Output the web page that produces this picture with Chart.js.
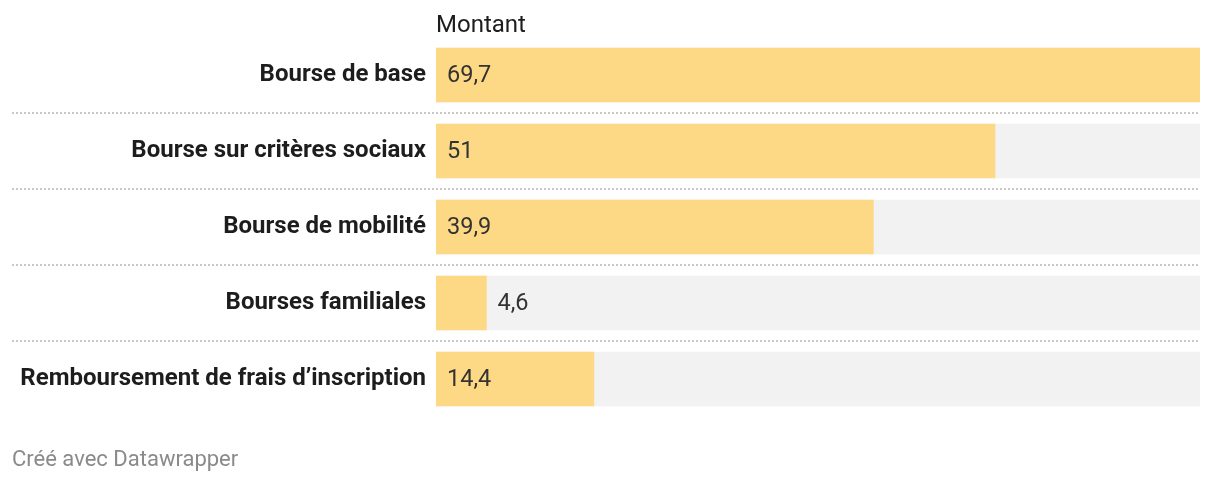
<!DOCTYPE html>
<html>
<head>
<meta charset="utf-8">
<script src="https://cdn.jsdelivr.net/npm/chart.js@4/dist/chart.umd.min.js"></script>
<style>
  body { margin: 0; background: #fff; font-family: Roboto, sans-serif; }
  #wrap { position: relative; width: 1220px; height: 482px; }
  #chart { position: absolute; left: 0; top: 0; }
  .head { position: absolute; left: 436px; top: 10px; font-size: 24px; line-height: 28px; color: #1d1d1d; }
  .foot { position: absolute; left: 12px; top: 446px; font-size: 22px; line-height: 26px; color: #8a8a8a; }
</style>
</head>
<body>
<div id="wrap">
  <canvas id="chart" width="1220" height="482"></canvas>
  <div class="head">Montant</div>
  <div class="foot">Créé avec Datawrapper</div>
</div>
<script>
const categories = ['Bourse de base', 'Bourse sur critères sociaux', 'Bourse de mobilité', 'Bourses familiales', 'Remboursement de frais d’inscription'];
const montants = [69.7, 51, 39.9, 4.6, 14.4];
const maxValue = 69.7;
const backdrop = categories.map(() => maxValue);

const fmt = v => String(v).replace('.', ',');

// value labels + dotted row separators
const extras = {
    id: 'extras',
    afterDatasetsDraw(chart) {
        const ctx = chart.ctx;
        const meta = chart.getDatasetMeta(1);
        const y = chart.scales.y;
        const area = chart.chartArea;
        ctx.save();
        ctx.font = '23.5px Roboto';
        ctx.fillStyle = '#333';
        ctx.textBaseline = 'middle';
        ctx.textAlign = 'left';
        meta.data.forEach((bar, i) => {
            const txt = fmt(montants[i]);
            const w = ctx.measureText(txt).width;
            const inside = bar.x - bar.base > w + 22;
            ctx.fillText(txt, inside ? bar.base + 11 : bar.x + 11, bar.y + 1);
        });
        ctx.strokeStyle = '#c8c8c8';
        ctx.lineWidth = 2;
        ctx.setLineDash([2, 2]);
        for (let i = 0; i < categories.length - 1; i++) {
            const yy = Math.round((y.getPixelForValue(i) + y.getPixelForValue(i + 1)) / 2);
            ctx.beginPath();
            ctx.moveTo(12, yy);
            ctx.lineTo(area.right, yy);
            ctx.stroke();
        }
        ctx.restore();
    }
};

new Chart(document.getElementById('chart'), {
    type: 'bar',
    data: {
        labels: categories,
        datasets: [
            { data: backdrop, backgroundColor: '#f2f2f2', barThickness: 54, order: 2 },
            { data: montants, backgroundColor: '#fdd885', barThickness: 54, order: 1 }
        ]
    },
    options: {
        indexAxis: 'y',
        responsive: false,
        animation: false,
        grouped: false,
        layout: { padding: { top: 37, bottom: 65, right: 20, left: 0 } },
        plugins: { legend: { display: false }, tooltip: { enabled: false } },
        scales: {
            x: { display: false, min: 0, max: maxValue },
            y: {
                grid: { display: false, drawTicks: false },
                border: { display: false },
                ticks: { padding: 10, color: '#1d1d1d', font: { family: 'Roboto', size: 24, weight: 'bold' } },
                afterFit(s) { s.width = 436; }
            }
        }
    },
    plugins: [extras]
});
</script>
</body>
</html>
